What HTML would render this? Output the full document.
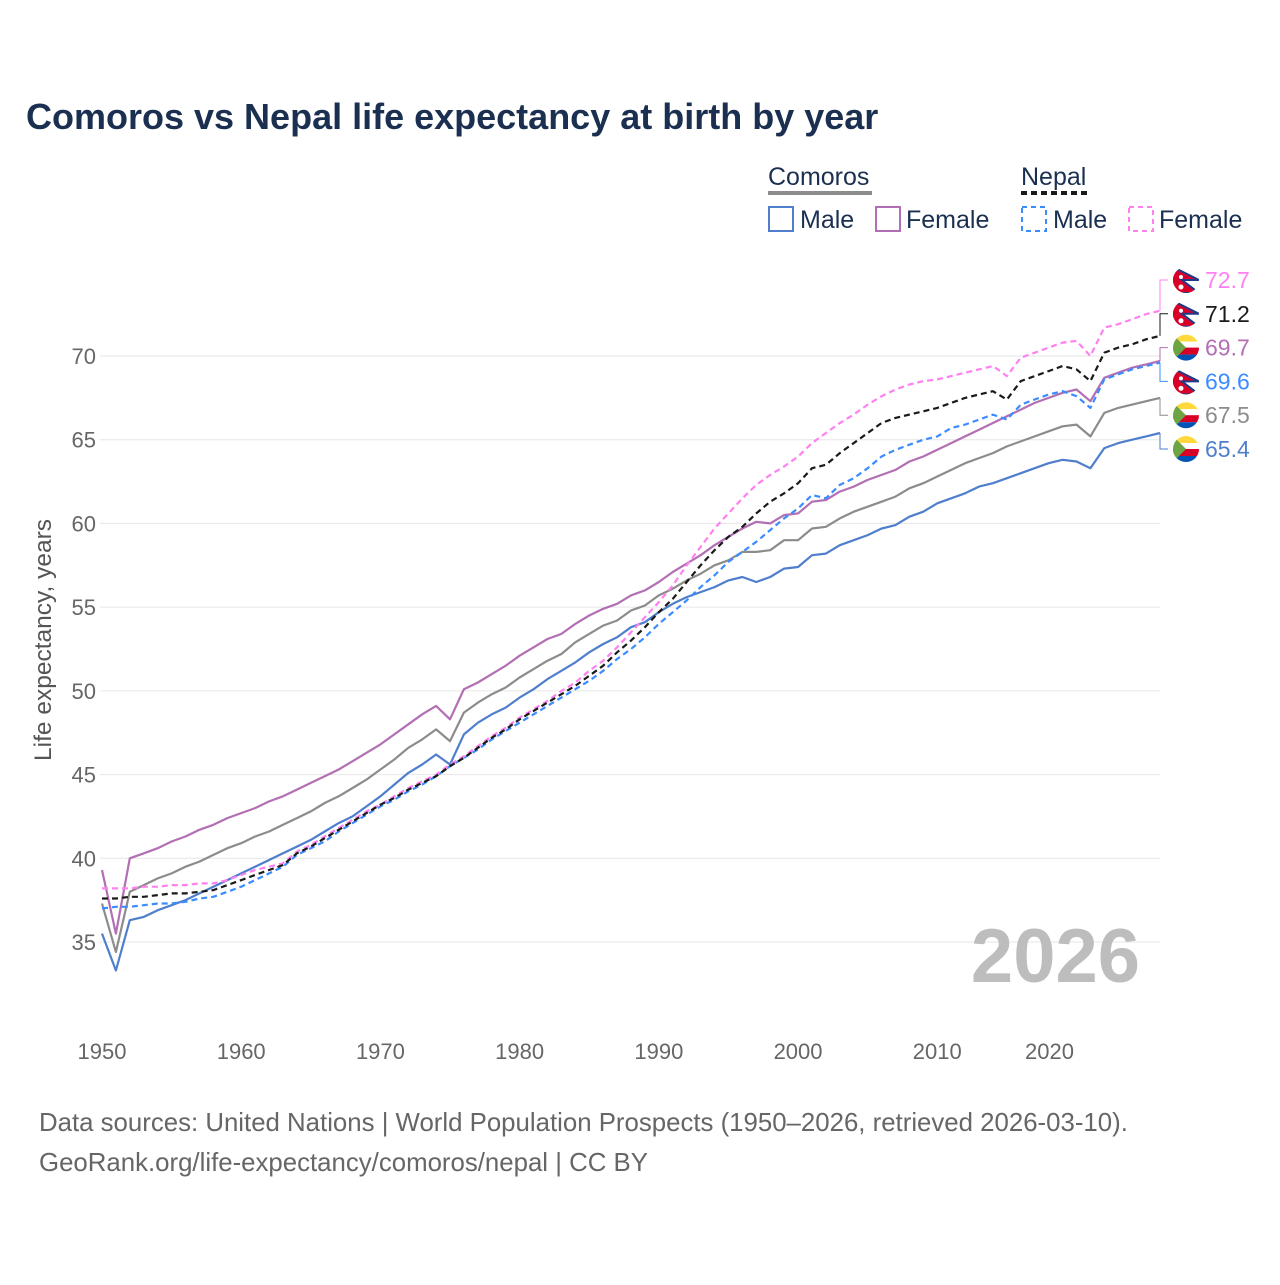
<!DOCTYPE html>
<html><head><meta charset="utf-8">
<style>
body{margin:0;background:#fff;font-family:"Liberation Sans",sans-serif;}
svg text{font-family:"Liberation Sans",sans-serif;}
</style></head>
<body>
<svg id="chart" width="1280" height="1280" viewBox="0 0 1280 1280" xmlns="http://www.w3.org/2000/svg">
<rect width="1280" height="1280" fill="#fff"/>
<text x="26" y="129" font-size="36" font-weight="bold" fill="#1b3050">Comoros vs Nepal life expectancy at birth by year</text>
<g font-size="25" fill="#1b3050">
 <text x="768" y="185" fill="#1b3050">Comoros</text>
 <line x1="768" y1="193" x2="872" y2="193" stroke="#8c8c8c" stroke-width="4"/>
 <text x="1021" y="185">Nepal</text>
 <line x1="1021" y1="193" x2="1088" y2="193" stroke="#1a1a1a" stroke-width="4" stroke-dasharray="6,4"/>
 <g><rect x="769" y="207" width="24" height="24" fill="none" stroke="#4f7fcc" stroke-width="2"/><text x="800" y="228">Male</text></g>
 <g><rect x="876" y="207" width="24" height="24" fill="none" stroke="#b36fb3" stroke-width="2"/><text x="906" y="228">Female</text></g>
 <g><rect x="1022" y="207" width="24" height="24" fill="none" stroke="#3b8cff" stroke-width="2" stroke-dasharray="5,4"/><text x="1053" y="228">Male</text></g>
 <g><rect x="1129" y="207" width="24" height="24" fill="none" stroke="#ff80f0" stroke-width="2" stroke-dasharray="5,4"/><text x="1159" y="228">Female</text></g>
</g>
<text transform="translate(51,640) rotate(-90)" text-anchor="middle" font-size="24.5" fill="#555">Life expectancy, years</text>
<g id="grid"></g>
<g id="xaxis"></g>
<g id="series"></g>
<g id="endlabels"></g>
<text x="1140" y="982" text-anchor="end" font-size="76" font-weight="bold" fill="#bdbdbd">2026</text>
<text x="39" y="1131" font-size="25.8" fill="#666">Data sources: United Nations | World Population Prospects (1950–2026, retrieved 2026-03-10).</text>
<text x="39" y="1171" font-size="25.8" fill="#666">GeoRank.org/life-expectancy/comoros/nepal | CC BY</text>
</svg>
<script>
const startYear = 1950;
const yTicks = [35,40,45,50,55,60,65,70];
const xTicks = [1950,1960,1970,1980,1990,2000,2010,2020];
const comorosFemale = [39.3,35.5,40.0,40.3,40.6,41.0,41.3,41.7,42.0,42.4,42.7,43.0,43.4,43.7,44.1,44.5,44.9,45.3,45.8,46.3,46.8,47.4,48.0,48.6,49.1,48.3,50.1,50.5,51.0,51.5,52.1,52.6,53.1,53.4,54.0,54.5,54.9,55.2,55.7,56.0,56.5,57.1,57.6,58.1,58.7,59.2,59.7,60.1,60.0,60.5,60.6,61.3,61.4,61.9,62.2,62.6,62.9,63.2,63.7,64.0,64.4,64.8,65.2,65.6,66.0,66.4,66.8,67.2,67.5,67.8,68.0,67.3,68.7,69.0,69.3,69.5,69.7];
const comorosTotal = [37.3,34.4,38.0,38.4,38.8,39.1,39.5,39.8,40.2,40.6,40.9,41.3,41.6,42.0,42.4,42.8,43.3,43.7,44.2,44.7,45.3,45.9,46.6,47.1,47.7,47.0,48.7,49.3,49.8,50.2,50.8,51.3,51.8,52.2,52.9,53.4,53.9,54.2,54.8,55.1,55.7,56.1,56.6,57.0,57.5,57.8,58.3,58.3,58.4,59.0,59.0,59.7,59.8,60.3,60.7,61.0,61.3,61.6,62.1,62.4,62.8,63.2,63.6,63.9,64.2,64.6,64.9,65.2,65.5,65.8,65.9,65.2,66.6,66.9,67.1,67.3,67.5];
const comorosMale = [35.5,33.3,36.3,36.5,36.9,37.2,37.5,37.9,38.3,38.7,39.1,39.5,39.9,40.3,40.7,41.1,41.6,42.1,42.5,43.1,43.7,44.4,45.1,45.6,46.2,45.6,47.4,48.1,48.6,49.0,49.6,50.1,50.7,51.2,51.7,52.3,52.8,53.2,53.8,54.1,54.7,55.2,55.6,55.9,56.2,56.6,56.8,56.5,56.8,57.3,57.4,58.1,58.2,58.7,59.0,59.3,59.7,59.9,60.4,60.7,61.2,61.5,61.8,62.2,62.4,62.7,63.0,63.3,63.6,63.8,63.7,63.3,64.5,64.8,65.0,65.2,65.4];
const nepalTotal = [37.6,37.6,37.7,37.7,37.8,37.9,37.9,38.0,38.1,38.4,38.7,39.0,39.3,39.6,40.3,40.7,41.2,41.7,42.2,42.7,43.2,43.6,44.1,44.5,44.9,45.5,46.0,46.6,47.2,47.7,48.3,48.8,49.3,49.8,50.3,50.9,51.5,52.3,53.0,53.8,54.7,55.5,56.5,57.5,58.4,59.2,59.8,60.6,61.3,61.8,62.4,63.3,63.5,64.2,64.8,65.4,66.0,66.3,66.5,66.7,66.9,67.2,67.5,67.7,67.9,67.4,68.5,68.8,69.1,69.4,69.2,68.5,70.2,70.5,70.7,71.0,71.2];
const nepalMale = [37.0,37.1,37.1,37.2,37.3,37.3,37.4,37.6,37.7,38.0,38.3,38.7,39.1,39.5,40.2,40.6,41.0,41.6,42.1,42.6,43.1,43.5,44.0,44.4,44.9,45.5,46.0,46.5,47.1,47.6,48.1,48.6,49.1,49.6,50.1,50.6,51.2,51.9,52.5,53.2,54.0,54.7,55.4,56.2,56.9,57.7,58.3,58.9,59.6,60.3,60.9,61.7,61.5,62.3,62.7,63.3,64.0,64.4,64.7,65.0,65.2,65.7,65.9,66.2,66.5,66.2,67.1,67.4,67.7,67.9,67.6,66.9,68.6,68.9,69.2,69.4,69.6];
const nepalFemale = [38.2,38.2,38.2,38.3,38.3,38.4,38.4,38.5,38.5,38.7,39.0,39.3,39.5,39.7,40.4,40.8,41.3,41.8,42.3,42.8,43.2,43.7,44.2,44.6,45.0,45.6,46.1,46.7,47.3,47.8,48.4,48.9,49.4,50.0,50.5,51.2,51.8,52.6,53.5,54.4,55.3,56.3,57.5,58.6,59.7,60.6,61.5,62.3,62.9,63.4,64.0,64.8,65.4,66.0,66.5,67.1,67.6,68.0,68.3,68.5,68.6,68.8,69.0,69.2,69.4,68.8,69.9,70.2,70.5,70.8,70.9,70.0,71.7,71.9,72.2,72.5,72.7];

const NS="http://www.w3.org/2000/svg";
const x = yr => 102 + (yr - 1950) * (1058/76);
const y = v => 356 + (70 - v) * (586/35);
function mk(tag, attrs, parent){const e=document.createElementNS(NS,tag);for(const k in attrs)e.setAttribute(k,attrs[k]);parent.appendChild(e);return e;}

const grid=document.getElementById('grid');
yTicks.forEach(t=>{
  const l=mk('line',{x1:100,x2:1160,y1:y(t),y2:y(t),stroke:'#e6e6e6','stroke-width':1},grid);
  
  
  const tx=mk('text',{x:96,y:y(t)+8,'text-anchor':'end','font-size':22,fill:'#666'},grid);
  tx.textContent=t;
  
  
});
const xa=document.getElementById('xaxis');
xTicks.forEach(t=>{
  let px=x(t); if(t===2020) px-=27;
  const tx=mk('text',{x:px,y:1059,'text-anchor':'middle','font-size':22,fill:'#666'},xa);
  tx.textContent=t;
  
  
});

const series=[
 {name:'comoros-total',d:comorosTotal,c:'#8c8c8c',dash:null},
 {name:'comoros-male',d:comorosMale,c:'#4f7fcc',dash:null},
 {name:'comoros-female',d:comorosFemale,c:'#b36fb3',dash:null},
 {name:'nepal-male',d:nepalMale,c:'#3b8cff',dash:'6,4'},
 {name:'nepal-female',d:nepalFemale,c:'#ff80f0',dash:'6,4'},
 {name:'nepal-total',d:nepalTotal,c:'#1a1a1a',dash:'6,4'}
];
const sg=document.getElementById('series');
series.forEach(s=>{
  const pts=s.d.map((v,i)=>x(startYear+i).toFixed(1)+','+y(v).toFixed(1)).join(' ');
  const p=mk('polyline',{points:pts,fill:'none',stroke:s.c,'stroke-width':2.2,'stroke-linejoin':'round'},sg);
  if(s.dash)p.setAttribute('stroke-dasharray',s.dash);
  
  
});

const labs=[
 {name:'nepal-female',d:nepalFemale,c:'#ff80f0',flag:'np'},
 {name:'nepal-total',d:nepalTotal,c:'#1a1a1a',flag:'np'},
 {name:'comoros-female',d:comorosFemale,c:'#b36fb3',flag:'km'},
 {name:'nepal-male',d:nepalMale,c:'#3b8cff',flag:'np'},
 {name:'comoros-total',d:comorosTotal,c:'#8c8c8c',flag:'km'},
 {name:'comoros-male',d:comorosMale,c:'#4f7fcc',flag:'km'}
];
const eg=document.getElementById('endlabels');
labs.forEach((s,i)=>{
  const v=s.d[s.d.length-1];
  const ly=280+i*33.8;
  const ex=x(2026), ey=y(v);
  const c=mk('polyline',{points:`${ex},${ey} 1160,${ey} 1160,${ly} 1168,${ly}`,fill:'none',stroke:s.c,'stroke-width':1},eg);
  
  
  const g=mk('g',{},eg);
  
  
  const cx=1186, r=13;
  const cp=mk('clipPath',{id:'cl'+i},g);
  mk('circle',{cx:cx,cy:ly,r:r},cp);
  const f=mk('g',{'clip-path':`url(#cl${i})`},g);
  if(s.flag==='np'){
    mk('rect',{x:cx-r,y:ly-r,width:2*r,height:2*r,fill:'#fff'},f);
    mk('polygon',{points:`${cx-r},${ly-r} ${cx+r},${ly} ${cx-4},${ly} ${cx+r},${ly+r} ${cx-r},${ly+r}`,fill:'#d80027',stroke:'#1f3c8a','stroke-width':2},f);
    mk('circle',{cx:cx-5,cy:ly-3,r:2,fill:'#fff'},f);
    mk('circle',{cx:cx-5,cy:ly+7,r:2.5,fill:'#fff'},f);
  } else {
    mk('rect',{x:cx-r,y:ly-r,width:2*r,height:7,fill:'#ffd93b'},f);
    mk('rect',{x:cx-r,y:ly-6,width:2*r,height:6,fill:'#fff'},f);
    mk('rect',{x:cx-r,y:ly,width:2*r,height:7,fill:'#d80027'},f);
    mk('rect',{x:cx-r,y:ly+7,width:2*r,height:7,fill:'#0052b4'},f);
    mk('polygon',{points:`${cx-r},${ly-r} ${cx},${ly} ${cx-r},${ly+r}`,fill:'#6da544'},f);
  }
  const t=mk('text',{x:1205,y:ly+8,'font-size':23,fill:s.c},eg);
  t.textContent=v.toFixed(1);
  
  
});
</script>
</body></html>
